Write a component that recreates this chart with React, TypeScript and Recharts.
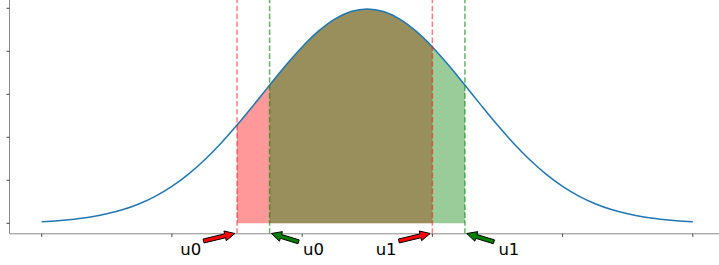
import React from 'react';
import { ComposedChart, Line, Area, XAxis, YAxis, ReferenceLine, ReferenceDot } from 'recharts';

// x positions of the sampled density curve
const xValues = [
  -5, -4.75, -4.5, -4.25, -4, -3.75, -3.5, -3.25, -3, -2.75, -2.5, -2.25, -2, -1.75, -1.5, -1.25, -1, -0.75, -0.5, -0.25,
  0, 0.25, 0.5, 0.75, 1, 1.25, 1.5, 1.75, 2, 2.25, 2.5, 2.75, 3, 3.25, 3.5, 3.75, 4, 4.25, 4.5, 4.75, 5,
];
// density values
const densityValues = [
  0.0019, 0.003, 0.0048, 0.0073, 0.011, 0.016, 0.0228, 0.0317, 0.043, 0.0569, 0.0736, 0.0928, 0.1142, 0.1371, 0.1607,
  0.1838, 0.2051, 0.2234, 0.2375, 0.2463, 0.2493, 0.2463, 0.2375, 0.2234, 0.2051, 0.1838, 0.1607, 0.1371, 0.1142,
  0.0928, 0.0736, 0.0569, 0.043, 0.0317, 0.0228, 0.016, 0.011, 0.0073, 0.0048, 0.003, 0.0019,
];
// interval bounds
const redInterval = [-2, 1];
const greenInterval = [-1.5, 1.5];
const redLabels = ['u0', 'u1'];
const greenLabels = ['u0', 'u1'];
const xTicks = [-5, -3, -1, 1, 3, 5];
const yTicks = [0, 0.05, 0.1, 0.15, 0.2, 0.25];
const xDomain = [-5.4946, 5.4946];
const yDomain = [-0.01221, 0.25965];

const data = xValues.map((x, i) => ({
  x,
  y: densityValues[i],
  red: x >= redInterval[0] && x <= redInterval[1] ? densityValues[i] : null,
  green: x >= greenInterval[0] && x <= greenInterval[1] ? densityValues[i] : null,
}));

function arrowPoints(tx: number, ty: number, px: number, py: number) {
  const dx = px - tx;
  const dy = py - ty;
  const len = Math.sqrt(dx * dx + dy * dy);
  const ux = dx / len;
  const uy = dy / len;
  const nx = -uy;
  const ny = ux;
  const headLen = 10;
  const hw = 5;
  const sw = 2;
  const hx = px - ux * headLen;
  const hy = py - uy * headLen;
  const pts = [
    [tx + nx * sw, ty + ny * sw],
    [hx + nx * sw, hy + ny * sw],
    [hx + nx * hw, hy + ny * hw],
    [px, py],
    [hx - nx * hw, hy - ny * hw],
    [hx - nx * sw, hy - ny * sw],
    [tx - nx * sw, ty - ny * sw],
  ];
  return pts.map((p) => p[0].toFixed(2) + ',' + p[1].toFixed(2)).join(' ');
}

function makeMarker(label: string, color: string, side: 'left' | 'right') {
  return (props: any) => {
    const cx = props.cx;
    const cy = props.cy;
    if (cx == null || cy == null) return <g />;
    const left = side === 'left';
    const tipX = left ? cx - 2.2 : cx + 1.8;
    const tipY = cy - 0.3;
    const tailX = left ? cx - 33.5 : cx + 29;
    const tailY = left ? cy + 7.2 : cy + 8;
    const textX = left ? cx - 56.7 : cx + 33.5;
    return (
      <g>
        <polygon points={arrowPoints(tailX, tailY, tipX, tipY)} fill={color} stroke="#000" strokeWidth={1} strokeLinejoin="miter" />
        <text x={textX} y={255} fontFamily="DejaVu Sans" fontSize={16.5} fill="#000">
          {label}
        </text>
      </g>
    );
  };
}

export default function App() {
  return (
    <div style={{ position: 'absolute', left: 0, top: 0, width: 719, height: 265, overflow: 'hidden', background: '#fff' }}>
      <ComposedChart width={725} height={265} data={data} margin={{ top: 0, right: 0, bottom: 0, left: 0 }}>
        <XAxis
          dataKey="x"
          type="number"
          domain={xDomain}
          ticks={xTicks}
          allowDataOverflow
          tickFormatter={() => ''}
          tickSize={3}
          height={31.2}
          axisLine={{ stroke: '#8a8a8a', strokeWidth: 1 }}
          tickLine={{ stroke: '#444', strokeWidth: 1 }}
        />
        <YAxis
          type="number"
          domain={yDomain}
          ticks={yTicks}
          allowDataOverflow
          tickFormatter={() => ''}
          tickSize={3}
          width={9.5}
          axisLine={{ stroke: '#8a8a8a', strokeWidth: 1 }}
          tickLine={{ stroke: '#444', strokeWidth: 1 }}
        />
        <Area
          dataKey="red"
          type="monotone"
          baseValue={0}
          stroke="none"
          fill="#ff0000"
          fillOpacity={0.4}
          connectNulls={false}
          isAnimationActive={false}
          dot={false}
          activeDot={false}
        />
        <Area
          dataKey="green"
          type="monotone"
          baseValue={0}
          stroke="none"
          fill="#008000"
          fillOpacity={0.4}
          connectNulls={false}
          isAnimationActive={false}
          dot={false}
          activeDot={false}
        />
        <Line dataKey="y" type="monotone" stroke="#1f77b4" strokeWidth={1.5} dot={false} activeDot={false} isAnimationActive={false} />
        {redInterval.map((u) => (
          <ReferenceLine key={'rl' + u} x={u} stroke="#ff0000" strokeOpacity={0.5} strokeWidth={1.5} strokeDasharray="5.55 2.4" />
        ))}
        {greenInterval.map((u) => (
          <ReferenceLine key={'gl' + u} x={u} stroke="#008000" strokeOpacity={0.6} strokeWidth={1.5} strokeDasharray="5.55 2.4" />
        ))}
        {redInterval.map((u, i) => (
          <ReferenceDot key={'rd' + u} x={u} y={yDomain[0]} r={0} ifOverflow="visible" shape={makeMarker(redLabels[i], '#ff0000', 'left')} />
        ))}
        {greenInterval.map((u, i) => (
          <ReferenceDot key={'gd' + u} x={u} y={yDomain[0]} r={0} ifOverflow="visible" shape={makeMarker(greenLabels[i], '#008000', 'right')} />
        ))}
      </ComposedChart>
    </div>
  );
}
